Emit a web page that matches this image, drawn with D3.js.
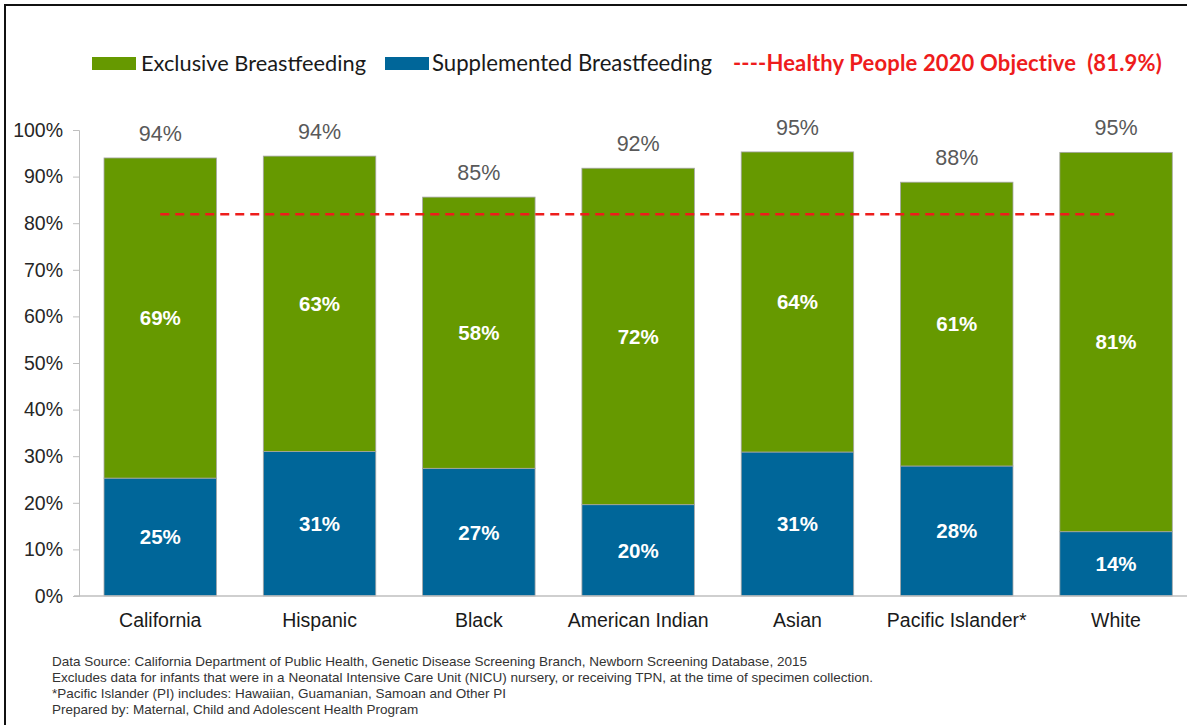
<!DOCTYPE html>
<html>
<head>
<meta charset="utf-8">
<script src="https://cdn.jsdelivr.net/npm/d3@7"></script>
<style>
  body { margin: 0; background: #fff; }
  text { font-family: "Liberation Sans", Arial, sans-serif; }
  .legend text { font-family: Lato, "Noto Sans", sans-serif; }
</style>
</head>
<body>
<div id="chart"></div>
<script>
var width = 1187,
    height = 725;

// data
var groups = ["California", "Hispanic", "Black", "American Indian", "Asian", "Pacific Islander*", "White"];
var supplemented = [25.3, 31.0, 27.4, 19.6, 30.9, 27.9, 13.8];
var exclusive = [68.7, 63.4, 58.2, 72.2, 64.4, 60.9, 81.4];
var totals = [94, 94, 85, 92, 95, 88, 95];
var objective = 81.9;
var yTicks = [0, 10, 20, 30, 40, 50, 60, 70, 80, 90, 100];
var notes = [
  "Data Source: California Department of Public Health, Genetic Disease Screening Branch, Newborn Screening Database, 2015",
  "Excludes data for infants that were in a Neonatal Intensive Care Unit (NICU) nursery, or receiving TPN, at the time of specimen collection.",
  "*Pacific Islander (PI) includes: Hawaiian, Guamanian, Samoan and Other PI",
  "Prepared by: Maternal, Child and Adolescent Health Program"
];

var green = "#669900",
    blue = "#006699",
    red = "#ee1c1c";

var svg = d3.select("#chart").append("svg")
.attr("width", width)
.attr("height", height);

// frame
svg.append("rect")
.attr("x", 5).attr("y", 5)
.attr("width", 1400).attr("height", 1000)
.attr("fill", "none")
.attr("stroke", "#111")
.attr("stroke-width", 2);

var x = d3.scaleBand()
.domain(groups)
.range([80.6, 1195.7])
.paddingInner(0.294)
.paddingOuter(0.147);

var y = d3.scaleLinear()
.domain([0, 100])
.range([596, 130]);

// y axis
var yAxis = d3.axisLeft(y)
.tickValues(yTicks)
.tickSize(6)
.tickFormat(function(d){ return d + "%" });

var gy = svg.append("g")
.attr("transform", "translate(79,0)")
.call(yAxis);
gy.select(".domain").attr("stroke", "#bfbfbf");
gy.selectAll(".tick line").attr("stroke", "#bfbfbf");
gy.selectAll(".tick text")
.attr("x", -16)
.attr("font-size", 19.5)
.attr("font-family", "Liberation Sans, Arial, sans-serif")
.attr("fill", "#262626");

// stacked bars
var rows = groups.map(function(g, i){
  return {name: g, sup: supplemented[i], exc: exclusive[i], total: totals[i]};
});

var bars = svg.append("g").selectAll("g")
.data(rows)
.enter().append("g");

bars.append("rect")
.attr("x", function(d){ return x(d.name) })
.attr("width", x.bandwidth())
.attr("y", function(d){ return y(d.sup) })
.attr("height", function(d){ return y(0) - y(d.sup) })
.attr("fill", blue)
.attr("stroke", "#a6a6a6")
.attr("stroke-width", 0.8);

bars.append("rect")
.attr("x", function(d){ return x(d.name) })
.attr("width", x.bandwidth())
.attr("y", function(d){ return y(d.sup + d.exc) })
.attr("height", function(d){ return y(d.sup) - y(d.sup + d.exc) })
.attr("fill", green)
.attr("stroke", "#a6a6a6")
.attr("stroke-width", 0.8);

// x axis line
svg.append("line")
.attr("x1", 74).attr("x2", width)
.attr("y1", y(0)).attr("y2", y(0))
.attr("stroke", "#bfbfbf")
.attr("stroke-width", 1.5);

// segment labels
bars.append("text")
.attr("x", function(d){ return x(d.name) + x.bandwidth() / 2 })
.attr("y", function(d){ return (y(0) + y(d.sup)) / 2 })
.attr("dy", "0.36em")
.attr("text-anchor", "middle")
.attr("font-size", 20.5)
.attr("font-weight", "bold")
.attr("fill", "#fff")
.text(function(d){ return Math.round(d.sup) + "%" });

bars.append("text")
.attr("x", function(d){ return x(d.name) + x.bandwidth() / 2 })
.attr("y", function(d){ return (y(d.sup) + y(d.sup + d.exc)) / 2 })
.attr("dy", "0.36em")
.attr("text-anchor", "middle")
.attr("font-size", 20.5)
.attr("font-weight", "bold")
.attr("fill", "#fff")
.text(function(d){ return Math.round(d.exc) + "%" });

// totals on top
bars.append("text")
.attr("x", function(d){ return x(d.name) + x.bandwidth() / 2 })
.attr("y", function(d){ return y(d.sup + d.exc) - 25 })
.attr("dy", "0.36em")
.attr("text-anchor", "middle")
.attr("font-size", 21.5)
.attr("fill", "#595959")
.text(function(d){ return d.total + "%" });

// category labels
svg.append("g").selectAll("text")
.data(groups)
.enter().append("text")
.attr("x", function(d){ return x(d) + x.bandwidth() / 2 })
.attr("y", 620)
.attr("dy", "0.36em")
.attr("text-anchor", "middle")
.attr("font-size", 19.5)
.attr("fill", "#1a1a1a")
.text(function(d){ return d });

// objective line
svg.append("line")
.attr("x1", x(groups[0]) + x.bandwidth() / 2)
.attr("x2", x(groups[groups.length - 1]) + x.bandwidth() / 2)
.attr("y1", y(objective)).attr("y2", y(objective))
.attr("stroke", red)
.attr("stroke-width", 2.5)
.attr("stroke-dasharray", "9,6");

// legend
var legend = svg.append("g").attr("class", "legend");

legend.append("rect")
.attr("x", 92).attr("y", 57).attr("width", 44).attr("height", 13)
.attr("fill", green);
legend.append("text")
.attr("x", 141).attr("y", 71)
.attr("font-size", 21.8)
.attr("fill", "#1a1a1a")
.text("Exclusive Breastfeeding");

legend.append("rect")
.attr("x", 385).attr("y", 57).attr("width", 44).attr("height", 13)
.attr("fill", blue);
legend.append("text")
.attr("x", 432).attr("y", 71)
.attr("font-size", 22.2)
.attr("fill", "#1a1a1a")
.text("Supplemented Breastfeeding");

legend.append("text")
.attr("x", 733).attr("y", 71)
.attr("font-size", 22)
.attr("font-weight", "bold")
.attr("fill", red)
.attr("letter-spacing", 0.15)
.style("white-space", "pre")
.text("----Healthy People 2020 Objective  (81.9%)");

// footnotes
svg.append("g").selectAll("text")
.data(notes)
.enter().append("text")
.attr("x", 52)
.attr("y", function(d, i){ return 666 + i * 16 })
.attr("font-size", 13.5)
.attr("fill", "#333")
.text(function(d){ return d });
</script>
</body>
</html>
